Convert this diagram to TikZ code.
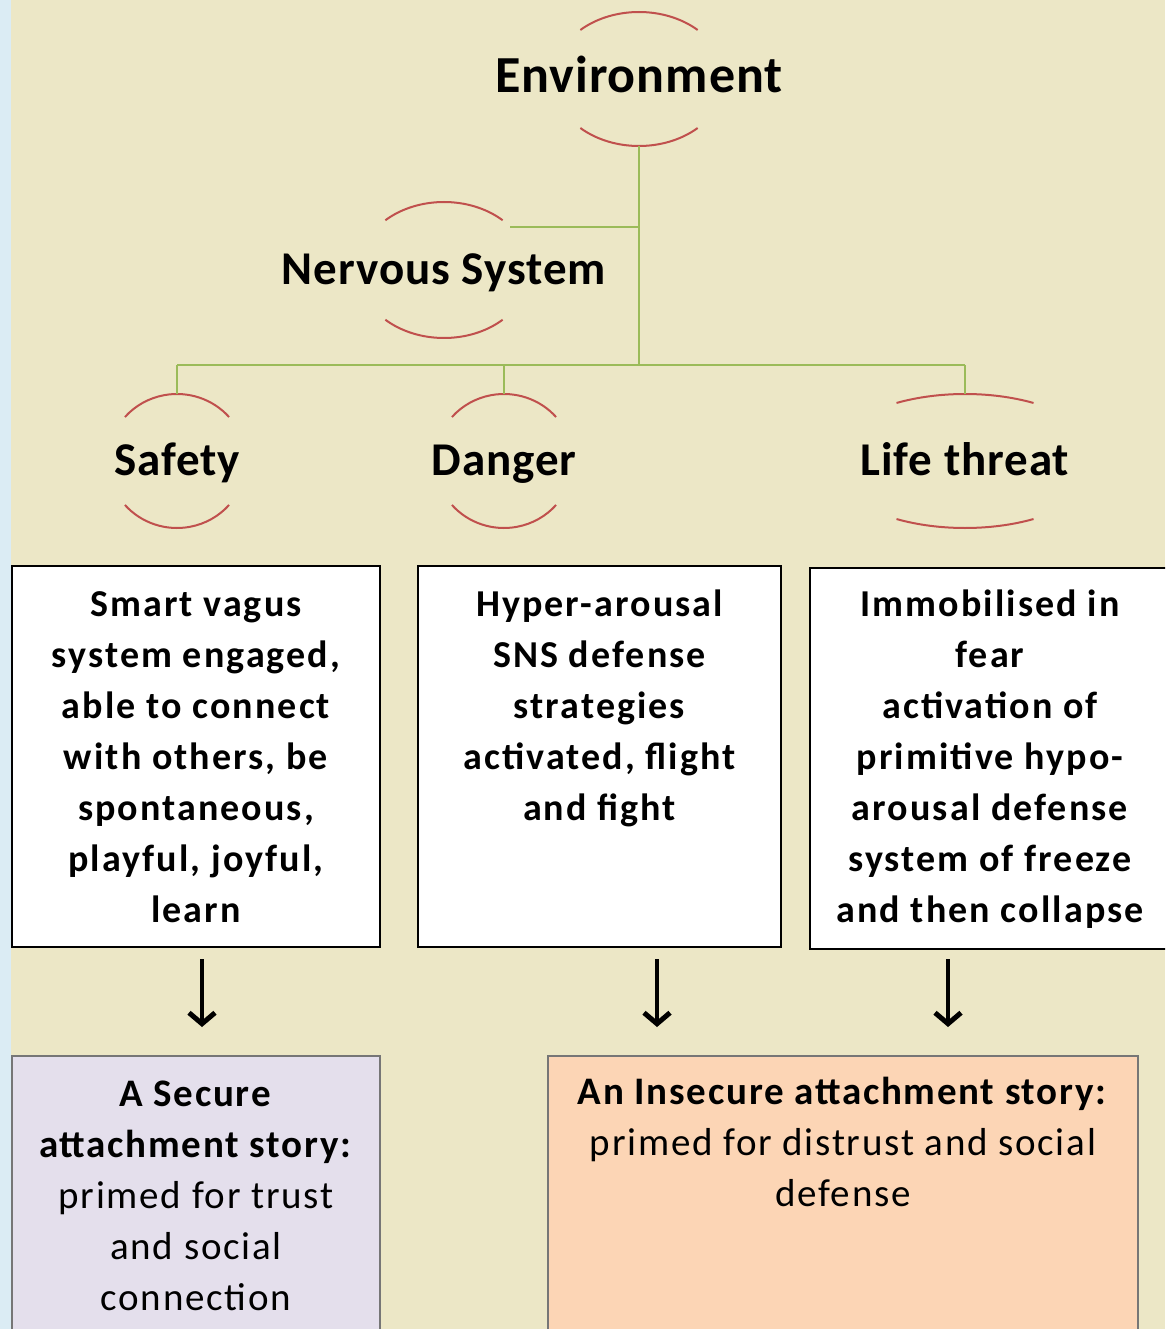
\documentclass[tikz,border=0pt]{standalone}
\usepackage{fontspec}
\setmainfont{Carlito}
\usetikzlibrary{arrows.meta,calc,positioning}
\definecolor{paper}{RGB}{236,231,198}
\definecolor{edgeblue}{RGB}{219,236,244}
\definecolor{arcred}{RGB}{192,80,77}
\definecolor{treegreen}{RGB}{155,187,89}
\definecolor{securelilac}{RGB}{228,223,236}
\definecolor{insecurepeach}{RGB}{252,213,181}
\definecolor{storygray}{RGB}{118,118,118}

\begin{document}
\begin{tikzpicture}[x=1pt, y=1pt,
    lvltext/.style={font=\fontsize{47}{56}\selectfont\bfseries\addfontfeature{LetterSpace=2}, inner sep=0pt, text height=36pt, text depth=8pt},
    lvlarc/.style={draw=arcred, line width=2pt},
    tree/.style={draw=treegreen, line width=2.5pt},
    panel/.style={draw=black, line width=2.2pt, fill=white, minimum height=381pt, inner sep=0pt},
    paneltext/.style={font=\fontsize{38}{51}\selectfont\bfseries\addfontfeature{LetterSpace=5.5}, align=center, anchor=north, inner sep=0pt},
    story/.style={draw=storygray, line width=2pt, minimum height=290pt, inner sep=0pt},
    storytext/.style={font=\fontsize{39}{51}\selectfont\addfontfeature{LetterSpace=4.5}, align=center, anchor=north, inner sep=0pt},
    storyarrow/.style={-{Straight Barb[length=11pt,width=26pt,line width=5pt]}, line width=4.5pt, shorten <=11pt, shorten >=28pt}]

    % page
    \clip (0,0) rectangle (1165,-1329);
    \fill[paper] (0,0) rectangle (1165,-1329);
    \fill[edgeblue] (0,0) rectangle (11,-1329);

    % hierarchy labels
    \node[lvltext, font=\fontsize{52}{60}\selectfont\bfseries\addfontfeature{LetterSpace=2}] (env) at (639,-79) {Environment};
    \node[lvltext] (ns) at (444,-270) {Nervous System};
    \node[lvltext] (safe) at (177,-461) {Safety};
    \node[lvltext] (dang) at (504,-461) {Danger};
    \node[lvltext] (life) at (965,-461) {Life threat};

    % red arcs above and below each label
    \foreach \n/\a/\b/\t in {env/86/67/47, ns/86/68/47, safe/69/67/41, dang/69/67/41, life/137/67/60} {
        \draw[lvlarc] ($(\n.center)+(\t:{\a} and {\b})$) arc[start angle=\t, end angle=180-\t, x radius=\a, y radius=\b];
        \draw[lvlarc] ($(\n.center)+(180+\t:{\a} and {\b})$) arc[start angle=180+\t, end angle=360-\t, x radius=\a, y radius=\b];
    }

    % green tree
    \coordinate (envfoot) at ($(env.center)+(0,-67)$);
    \coordinate (nsjoin) at ($(ns.center)+(66,43)$);
    \coordinate (bar) at (0,-365);
    \foreach \n in {safe,dang,life}
        \coordinate (\n-top) at ($(\n.center)+(0,67)$);
    \draw[tree] (envfoot) -- (envfoot |- bar);
    \draw[tree] (nsjoin) -- (nsjoin -| envfoot);
    \draw[tree] (safe-top |- bar) -- (life-top |- bar);
    \foreach \n in {safe,dang,life}
        \draw[tree] (\n-top) -- (\n-top |- bar);

    % response panels
    \node[panel, minimum width=368pt] (safebox) at (196,-756.5) {};
    \node[panel, minimum width=363pt] (dangbox) at (599.5,-756.5) {};
    \node[panel, minimum width=360pt] (lifebox) at (990,-758.5) {};
    \node[paneltext] (safetext) at ($(safebox.north)+(0,-16)$) {\strut Smart vagus\\system engaged,\\able to connect\\with others, be\\spontaneous,\\playful, joyful,\\learn};
    \node[paneltext] (dangtext) at ($(dangbox.north)+(0,-16)$) {\strut Hyper-arousal\\SNS defense\\strategies\\activated, flight\\and fight};
    \node[paneltext] (lifetext) at ($(lifebox.north)+(0,-14)$) {\strut Immobilised in\\fear\\activation of\\primitive hypo-\\arousal defense\\system of freeze\\and then collapse};

    % attachment stories
    \node[story, fill=securelilac, minimum width=368pt] (secure) at (196,-1201) {};
    \node[story, fill=insecurepeach, minimum width=590pt] (insecure) at (843,-1201) {};
    \node[storytext] (securetext) at ($(secure.north)+(0,-16)$) {\strut\textbf{A Secure}\\\textbf{attachment story:}\\primed for trust\\and social\\connection};
    \node[storytext] (insecuretext) at ($(insecure.north)+(0,-14)$) {\strut\textbf{An Insecure attachment story:}\\primed for distrust and social\\defense};

    % arrows
    \coordinate (safeout) at ([xshift=6pt]safebox.south);
    \coordinate (dangout) at ([xshift=57.5pt]dangbox.south);
    \coordinate (lifeout) at ([xshift=-42pt]lifebox.south);
    \draw[storyarrow] (safeout) -- (safeout |- secure.north);
    \draw[storyarrow] (dangout) -- (dangout |- insecure.north);
    \draw[storyarrow, shorten <=9pt] (lifeout) -- (lifeout |- insecure.north);
\end{tikzpicture}
\end{document}
